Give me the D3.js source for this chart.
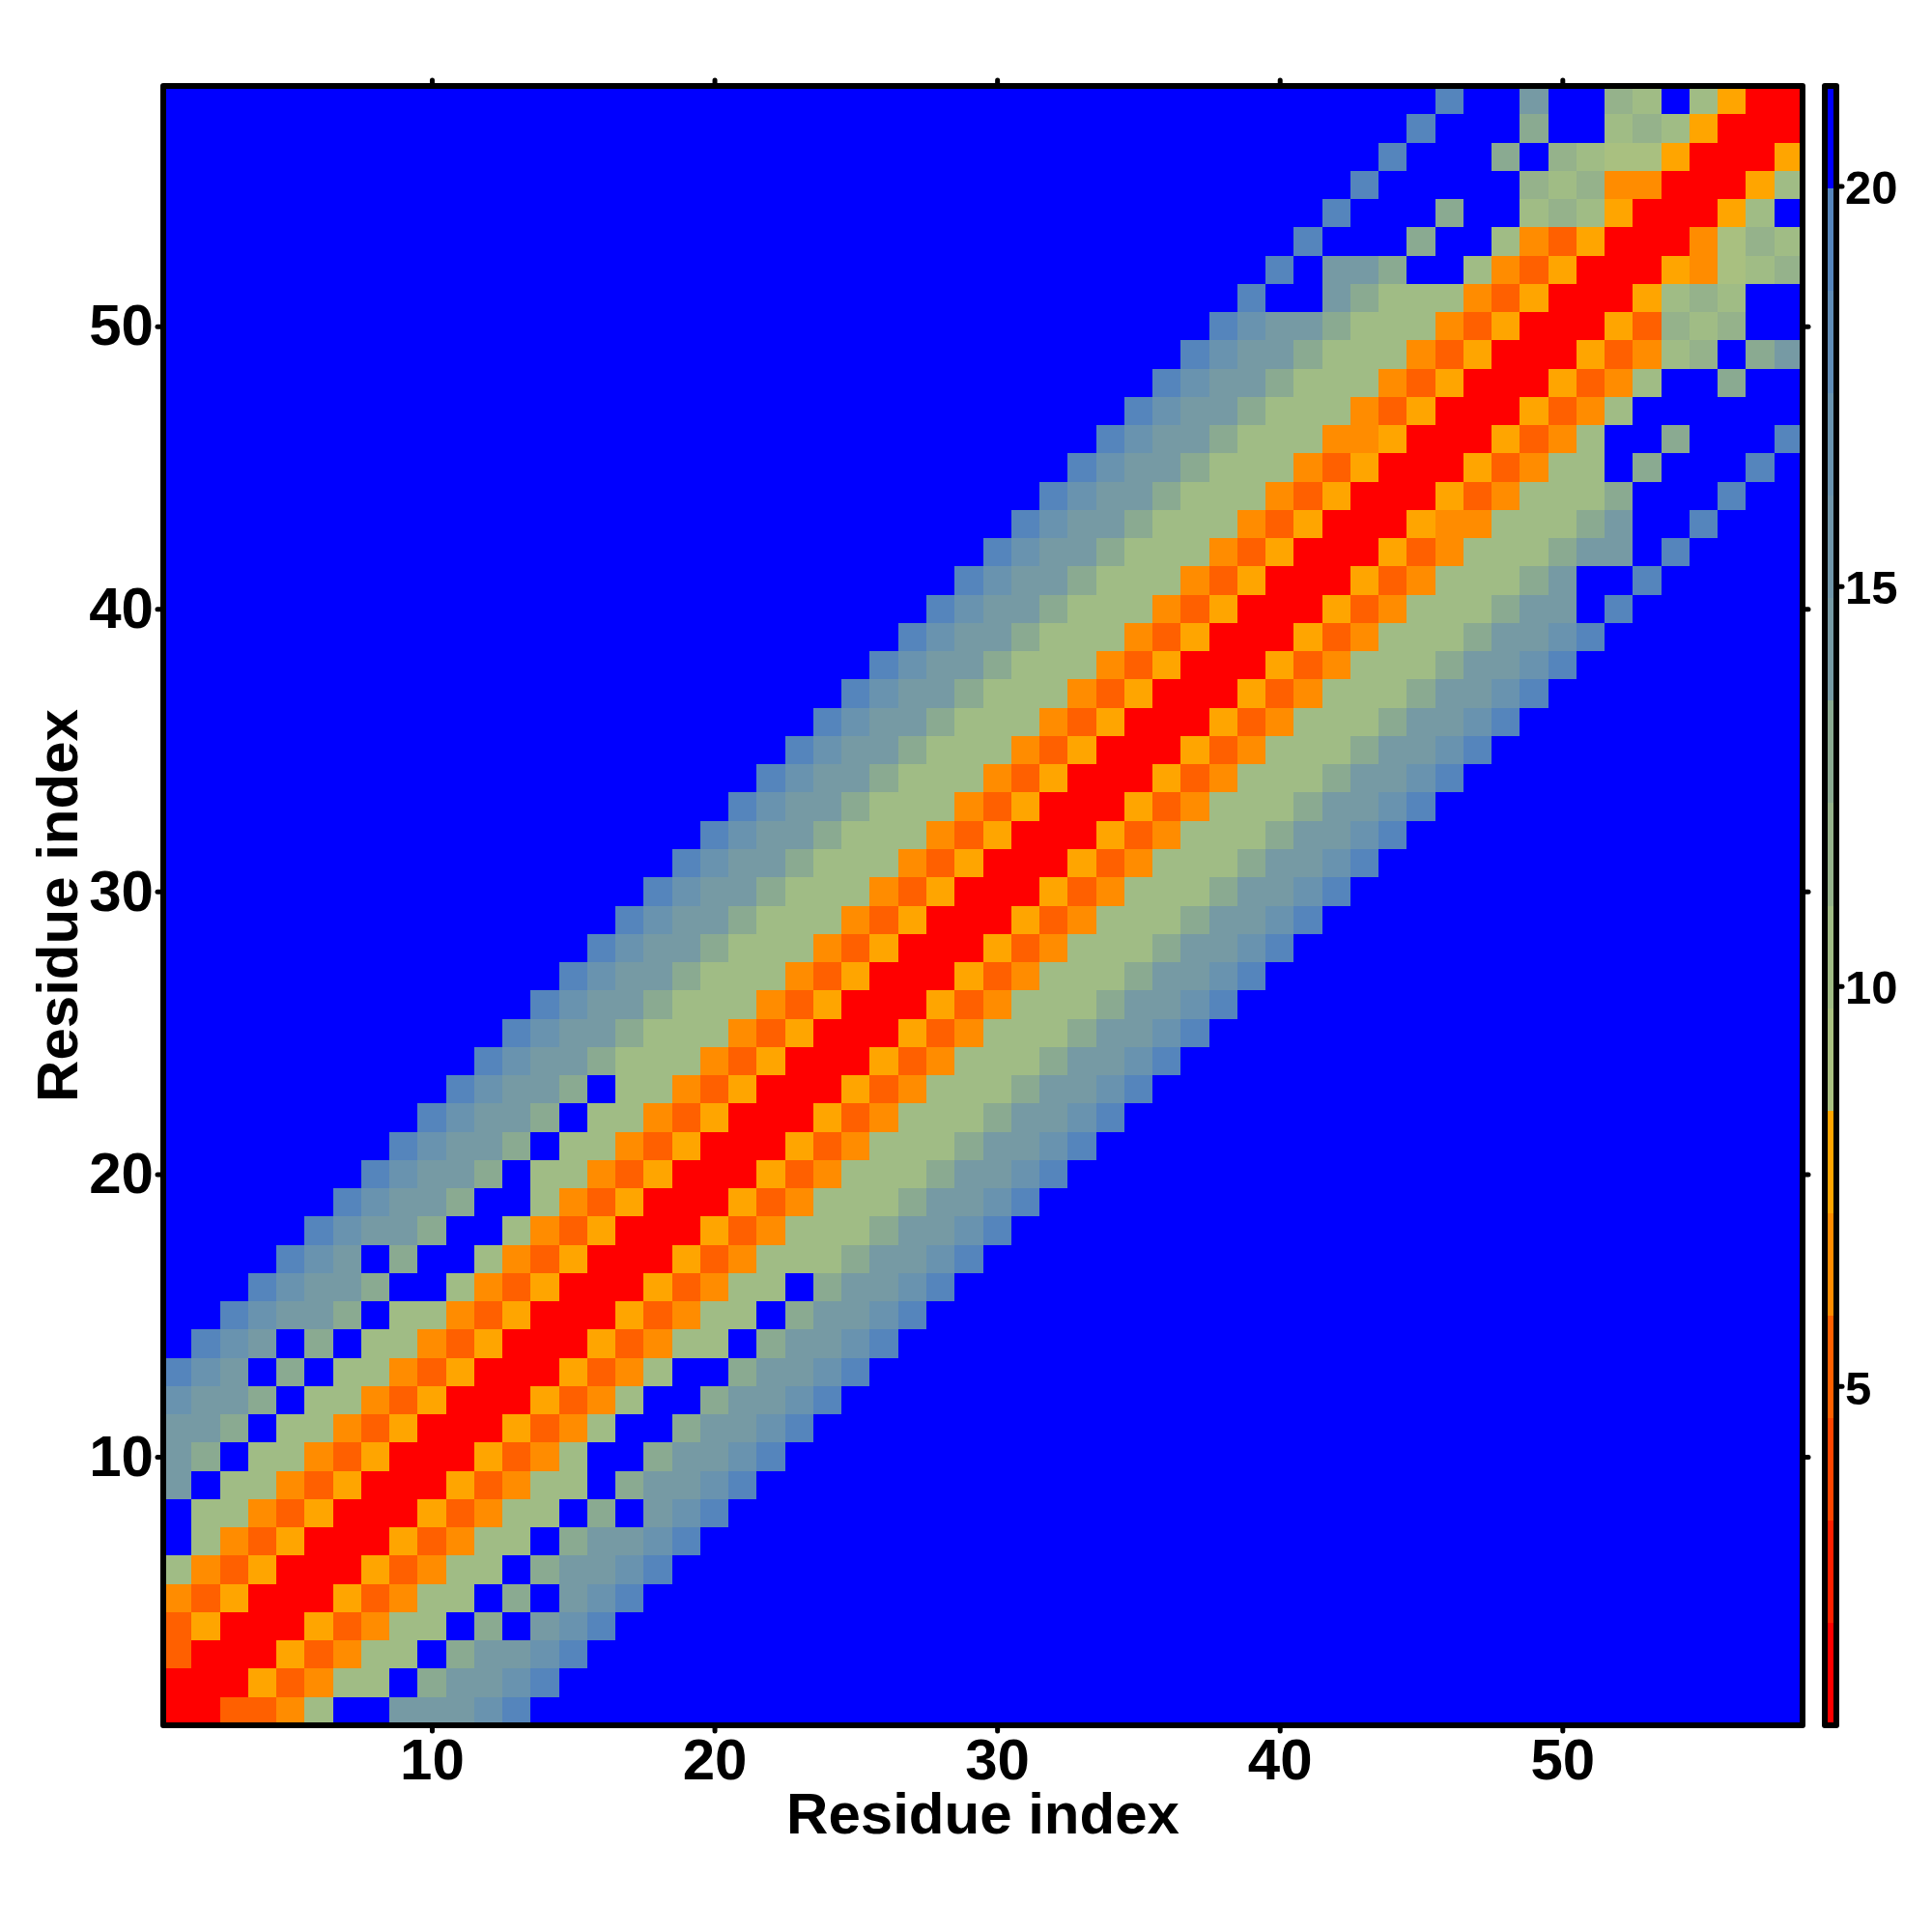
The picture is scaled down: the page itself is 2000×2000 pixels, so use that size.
<!DOCTYPE html>
<html>
<head>
<meta charset="utf-8">
<script src="https://cdn.jsdelivr.net/npm/d3@7"></script>
<style>
    html, body { margin: 0; padding: 0; background: #fff; }
    text { font-family: "Liberation Sans", Arial, sans-serif; font-weight: bold; fill: #000; }
</style>
</head>
<body>
<div id="chart"></div>
<script>
// Residue count and axis ticks
const residueCount = 58;
const axisTicks = [10, 20, 30, 40, 50];
const colorbarTicks = [5, 10, 15, 20];
const axisTitle = "Residue index";

// Colour levels of the bar, low to high
const levelColors = [
    "#ff0000", "#ff2000", "#ff4500", "#ff6000", "#ff8c00", "#ffa500",
    "#a9c080", "#a0bc85", "#95b28b", "#8aaa91", "#769aa4", "#7096aa",
    "#6993af", "#5f8cb6", "#5585bc", "#0000ff"
];
const valueRange = [0.76, 21.25];

// Value for every pair that sits past the end of a row below
const farValue = 21;

// Upper triangle: each row starts on the diagonal
const distanceRows = [
    [1,1,5,5,6.2,10.4,21,21,14,14,14,17,19],
    [1,1,7.5,5,6.2,10.4,10.4,21,13,14,14,17,19],
    [1,1,7.5,5,6.2,10.4,10.4,21,13,14,14,17,19],
    [1,1,7.5,5,6.2,10.4,10.4,21,13,21,14,17,19],
    [1,1,7.5,5,6.2,10.4,10.4,21,13,21,14,17,19],
    [1,1,7.5,5,6.2,10.4,10.4,21,13,14,14,17,19],
    [1,1,7.5,5,6.2,10.4,10.4,21,13,14,14,17,19],
    [1,1,7.5,5,6.2,10.4,10.4,21,13,21,14,17,19],
    [1,1,7.5,5,6.2,10.4,10.4,21,13,14,14,17,19],
    [1,1,7.5,5,6.2,10.4,21,21,13,14,14,17,19],
    [1,1,7.5,5,6.2,10.4,21,21,13,14,14,17,19],
    [1,1,7.5,5,6.2,10.4,21,21,13,14,14,17,19],
    [1,1,7.5,5,6.2,10.4,21,21,13,14,14,17,19],
    [1,1,7.5,5,6.2,10.4,10.4,21,13,14,14,17,19],
    [1,1,7.5,5,6.2,10.4,10.4,21,13,14,14,17,19],
    [1,1,7.5,5,6.2,10.4,10.4,21,13,14,14,17,19],
    [1,1,7.5,5,6.2,10.4,10.4,10.4,13,14,14,17,19],
    [1,1,7.5,5,6.2,10.4,10.4,10.4,13,14,14,17,19],
    [1,1,7.5,5,6.2,10.4,10.4,10.4,13,14,14,17,19],
    [1,1,7.5,5,6.2,10.4,10.4,10.4,13,14,14,17,19],
    [1,1,7.5,5,6.2,10.4,10.4,10.4,13,14,14,17,19],
    [1,1,7.5,5,6.2,10.4,10.4,10.4,13,14,14,17,19],
    [1,1,7.5,5,6.2,10.4,10.4,10.4,13,14,14,17,19],
    [1,1,7.5,5,6.2,10.4,10.4,10.4,13,14,14,17,19],
    [1,1,7.5,5,6.2,10.4,10.4,10.4,13,14,14,17,19],
    [1,1,7.5,5,6.2,10.4,10.4,10.4,13,14,14,17,19],
    [1,1,7.5,5,6.2,10.4,10.4,10.4,13,14,14,17,19],
    [1,1,7.5,5,6.2,10.4,10.4,10.4,13,14,14,17,19],
    [1,1,7.5,5,6.2,10.4,10.4,10.4,13,14,14,17,19],
    [1,1,7.5,5,6.2,10.4,10.4,10.4,13,14,14,17,19],
    [1,1,7.5,5,6.2,10.4,10.4,10.4,13,14,14,17,19],
    [1,1,7.5,5,6.2,10.4,10.4,10.4,13,14,14,17,19],
    [1,1,7.5,5,6.2,10.4,10.4,10.4,13,14,14,17,19],
    [1,1,7.5,5,6.2,10.4,10.4,10.4,13,14,14,17,19],
    [1,1,7.5,5,6.2,10.4,10.4,10.4,13,14,14,17,19],
    [1,1,7.5,5,6.2,10.4,10.4,10.4,13,14,14,17,19],
    [1,1,7.5,5,6.2,10.4,10.4,10.4,13,14,14,17,19],
    [1,1,7.5,5,6.2,10.4,10.4,10.4,13,14,14,17,19],
    [1,1,7.5,5,6.2,10.4,10.4,10.4,13,14,14,17,19],
    [1,1,7.5,5,6.2,10.4,10.4,10.4,13,14,14,21,19],
    [1,1,7.5,5,6.2,10.4,10.4,10.4,13,14,21,21,19],
    [1,1,7.5,5,6.2,10.4,10.4,10.4,13,14,14,21,19],
    [1,1,7.5,6.2,6.2,10.4,10.4,10.4,13,14,21,21,19],
    [1,1,7.5,5,6.2,10.4,10.4,10.4,13,21,21,21,19],
    [1,1,7.5,5,6.2,10.4,10.4,21,13,21,21,21,19],
    [1,1,7.5,5,6.2,10.4,21,21,13,21,21,21,19],
    [1,1,7.5,5,6.2,10.4],
    [1,1,7.5,5,6.2,10.4,21,21,13],
    [1,1,7.5,5,6.2,10.4,11.6,21,13,14],
    [1,1,7.5,5,11.6,10.4,11.6],
    [1,1,7.5,10.4,11.6,10.4],
    [1,1,7.5,6.2,9,10.4,11.6],
    [1,1,6.2,9,11.6,10.4],
    [1,1,7.5,10.4,21],
    [1,1,7.5,10.4],
    [1,1,7.5],
    [1,1],
    [1]
];

function createChart(containerSelector) {
    // Frame of the heatmap and of the colour bar
    const panel = { left: 169, right: 1866, top: 89, bottom: 1786 };
    const bar = { left: 1889, right: 1901 };

    const svg = d3.select(containerSelector)
        .append("svg")
        .attr("width", 2000)
        .attr("height", 2000);

    const x = d3.scaleLinear()
        .domain([0.5, residueCount + 0.5])
        .range([panel.left, panel.right]);

    const y = d3.scaleLinear()
        .domain([0.5, residueCount + 0.5])
        .range([panel.bottom, panel.top]);

    const color = d3.scaleQuantize()
        .domain(valueRange)
        .range(levelColors);

    const barY = d3.scaleLinear()
        .domain(valueRange)
        .range([panel.bottom, panel.top]);

    // Full grid, mirrored from the upper triangle
    const cells = [];
    for (let i = 1; i <= residueCount; i++) {
        for (let j = 1; j <= residueCount; j++) {
            const row = distanceRows[Math.min(i, j) - 1];
            const value = row[Math.abs(i - j)];
            cells.push({ i, j, value: value === undefined ? farValue : value });
        }
    }

    svg.append("g")
        .selectAll("rect")
        .data(cells)
        .enter()
        .append("rect")
        .attr("x", d => x(d.i - 0.5))
        .attr("y", d => y(d.j + 0.5))
        .attr("width", d => x(d.i + 0.5) - x(d.i - 0.5))
        .attr("height", d => y(d.j - 0.5) - y(d.j + 0.5))
        .attr("fill", d => color(d.value))
        .attr("shape-rendering", "crispEdges");

    // Colour bar bands
    svg.append("g")
        .selectAll("rect")
        .data(levelColors)
        .enter()
        .append("rect")
        .attr("x", bar.left)
        .attr("width", bar.right - bar.left)
        .attr("y", d => barY(color.invertExtent(d)[1]))
        .attr("height", d => barY(color.invertExtent(d)[0]) - barY(color.invertExtent(d)[1]))
        .attr("fill", d => d)
        .attr("shape-rendering", "crispEdges");

    // Axes, all four sides carry ticks
    const styleAxis = (g, fontSize) => {
        g.select(".domain").remove();
        g.selectAll(".tick line")
            .attr("stroke", "#000")
            .attr("stroke-width", 5)
            .attr("stroke-linecap", "round");
        g.selectAll("text")
            .attr("font-size", fontSize)
            .attr("fill", "#000");
    };

    svg.append("g")
        .attr("transform", `translate(0,${panel.bottom})`)
        .call(d3.axisBottom(x).tickValues(axisTicks).tickSize(6).tickPadding(7))
        .call(styleAxis, 60);

    svg.append("g")
        .attr("transform", `translate(${panel.left},0)`)
        .call(d3.axisLeft(y).tickValues(axisTicks).tickSize(6).tickPadding(4))
        .call(styleAxis, 60);

    svg.append("g")
        .attr("transform", `translate(0,${panel.top})`)
        .call(d3.axisTop(x).tickValues(axisTicks).tickSize(6).tickFormat(""))
        .call(styleAxis, 60);

    svg.append("g")
        .attr("transform", `translate(${panel.right},0)`)
        .call(d3.axisRight(y).tickValues(axisTicks).tickSize(6).tickFormat(""))
        .call(styleAxis, 60);

    svg.append("g")
        .attr("transform", `translate(${bar.right},0)`)
        .call(d3.axisRight(barY).tickValues(colorbarTicks).tickSize(6).tickPadding(3))
        .call(styleAxis, 49)
        .selectAll("text")
        .attr("y", 2.5);

    // Frames on top of the cells
    svg.append("rect")
        .attr("x", panel.left)
        .attr("y", panel.top)
        .attr("width", panel.right - panel.left)
        .attr("height", panel.bottom - panel.top)
        .attr("fill", "none")
        .attr("stroke", "#000")
        .attr("stroke-width", 6)
        .attr("stroke-linejoin", "round");

    svg.append("rect")
        .attr("x", bar.left)
        .attr("y", panel.top)
        .attr("width", bar.right - bar.left)
        .attr("height", panel.bottom - panel.top)
        .attr("fill", "none")
        .attr("stroke", "#000")
        .attr("stroke-width", 6)
        .attr("stroke-linejoin", "round");

    // Axis titles
    svg.append("text")
        .attr("x", (panel.left + panel.right) / 2)
        .attr("y", 1898)
        .attr("text-anchor", "middle")
        .attr("font-size", 60)
        .text(axisTitle);

    svg.append("text")
        .attr("transform", `translate(80,${(panel.top + panel.bottom) / 2}) rotate(-90)`)
        .attr("text-anchor", "middle")
        .attr("font-size", 60)
        .text(axisTitle);
}

createChart("#chart");
</script>
</body>
</html>
